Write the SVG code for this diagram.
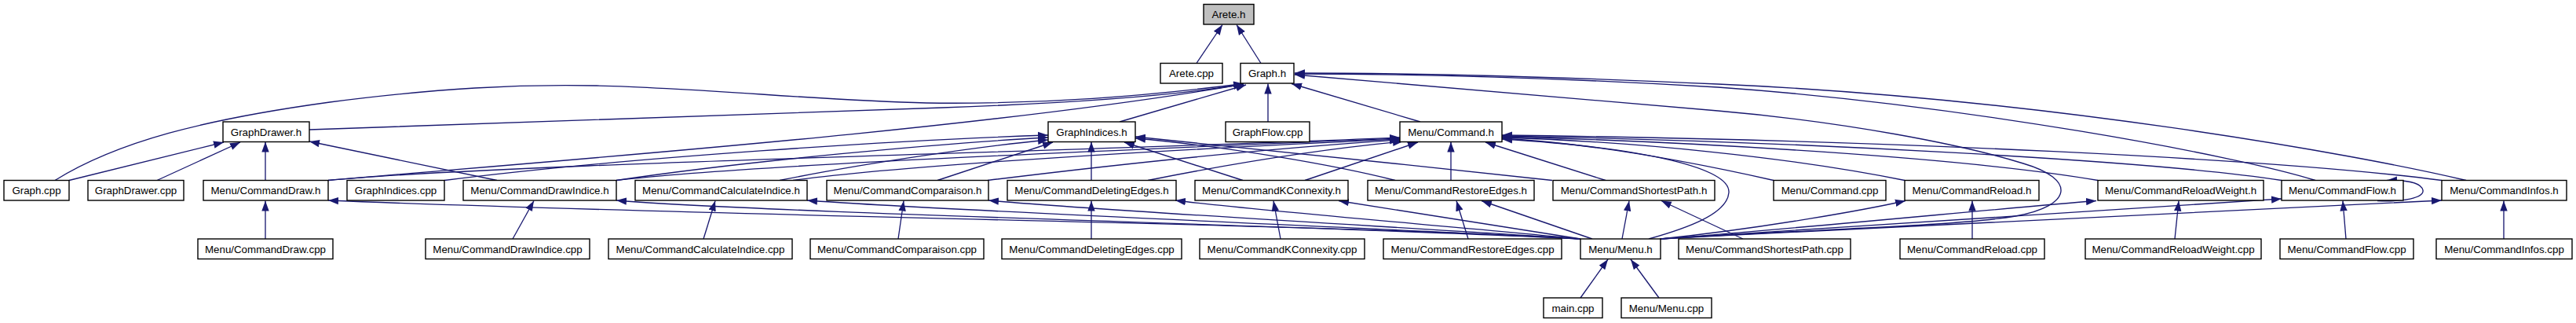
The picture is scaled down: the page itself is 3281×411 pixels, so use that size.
<svg xmlns="http://www.w3.org/2000/svg" width="3281" height="411" viewBox="0 0 3281 411">
<style>
.n rect{fill:#fff;stroke:#000;stroke-width:1.4}
.n.root rect{fill:#bfbfbf}
.n text{font-family:"Liberation Sans",Arial,Helvetica,sans-serif;font-size:13.33px;text-anchor:middle;fill:#000}
.e path{fill:none;stroke:#191970;stroke-width:1.33;marker-end:url(#a)}
</style>
<defs>
<marker id="a" markerUnits="userSpaceOnUse" markerWidth="14" markerHeight="10" refX="13" refY="5" orient="auto"><path d="M0,0.3 L13,5 L0,9.7 z" fill="#191970"/></marker>
</defs>
<rect width="3281" height="411" fill="#fff"/>
<g id="connectors" class="e">
<path d="M1524,80.5 L1557,31.5"/>
<path d="M1606,80.5 L1575,31.5"/>
<path d="M70,229.5 C150,180 260,152 420,130 C560,112 660,107 760,109 C900,112 1040,128 1180,131 C1330,133 1460,122 1584,106.5"/>
<path d="M394,165 C700,156 1000,145 1200,137 C1400,130 1520,118 1584,107"/>
<path d="M418,229.5 C700,205 1250,165 1584,107"/>
<path d="M1426,155 L1587,108"/>
<path d="M1615,155 L1615,106.5"/>
<path d="M1809,155 L1645,106.5"/>
<path d="M2114,304 C2300,292 2490,288 2567,275 C2640,262 2645,228 2577,208 C2500,184 2350,155 2188,141 L1649,95"/>
<path d="M2949,229.5 C2850,198 2500,133 2188,111 C1950,97 1760,94 1649,94"/>
<path d="M3141,229.5 C3000,196 2600,125 2188,107 C1950,96 1760,93 1649,93"/>
<path d="M88,229.5 L285,181"/>
<path d="M200,229.5 L306,181"/>
<path d="M338,229.5 L338,180.5"/>
<path d="M633,229.5 L394,180"/>
<path d="M566,229.5 C800,200 1150,178 1335,172"/>
<path d="M785,229.5 C950,205 1200,182 1335,175"/>
<path d="M993,229.5 C1100,208 1250,186 1335,178"/>
<path d="M1194,229.5 L1341,181"/>
<path d="M1390,229.5 L1390,180.5"/>
<path d="M1583,229.5 L1432,181"/>
<path d="M1777,229.5 C1700,210 1560,186 1446,176"/>
<path d="M1977,229.5 C1800,210 1580,188 1446,174"/>
<path d="M418,229.5 C650,208 1300,195 1783,175"/>
<path d="M785,229.5 C950,210 1400,192 1783,176"/>
<path d="M1010,229.5 C1150,210 1500,190 1783,177"/>
<path d="M1258,229.5 C1400,212 1600,190 1783,178"/>
<path d="M1462,229.5 C1560,210 1680,190 1787,180"/>
<path d="M1662,229.5 L1806,181"/>
<path d="M1848,229.5 L1848,180.5"/>
<path d="M2045,229.5 L1892,181"/>
<path d="M2259,229.5 C2150,205 2020,182 1913,176"/>
<path d="M2426,229.5 C2280,200 2080,180 1913,175"/>
<path d="M2672,229.5 C2500,200 2150,180 1913,174"/>
<path d="M2906,229.5 C2750,205 2300,180 1913,173"/>
<path d="M3110,229.5 C2900,202 2400,178 1913,172"/>
<path d="M2100,304 C2150,290 2200,272 2202,245 C2204,215 2100,188 1913,177"/>
<path d="M2013,304 C1700,285 900,275 418,255"/>
<path d="M2013,304 C1700,288 1000,272 785,255"/>
<path d="M2013,304 C1750,290 1200,268 1028,255"/>
<path d="M2013,304 C1800,290 1400,268 1259,255"/>
<path d="M2013,304 C1850,288 1600,268 1497,255"/>
<path d="M2013,304 L1705,255.5"/>
<path d="M2028,304 L1887,255.5"/>
<path d="M2066,304 L2075,255.5"/>
<path d="M2115,304 C2250,290 2380,266 2427,255.5"/>
<path d="M2115,304 C2300,290 2550,265 2670,255.5"/>
<path d="M2115,304 C2400,285 2750,265 2906,253"/>
<path d="M2115,304 C2500,283 2900,265 3110,255"/>
<path d="M338,304 L338,255.5"/>
<path d="M653,304 L680,255.5"/>
<path d="M896,304 L911,255.5"/>
<path d="M1144,304 L1151,255.5"/>
<path d="M1390,304 L1390,255.5"/>
<path d="M1631,304 L1622,255.5"/>
<path d="M1870,304 L1855,255.5"/>
<path d="M2220,304 L2116,255.5"/>
<path d="M2512,304 L2512,255.5"/>
<path d="M2770,304 L2775,255.5"/>
<path d="M2988,304 L2984,255.5"/>
<path d="M3189,304 L3189,255.5"/>
<path d="M2013,379 L2048,330"/>
<path d="M2113,379 L2077,330"/>
<path d="M3028,255.5 C3060,257 3088,252 3086,242 C3084,233 3068,229 3040,229.5"/>
</g>
<g id="n_arete_h" class="n root"><rect x="1533" y="5.5" width="64" height="25.5"/><text x="1565" y="23">Arete.h</text></g>
<g id="n_arete_cpp" class="n"><rect x="1478" y="80.5" width="79" height="25.5"/><text x="1517.5" y="98">Arete.cpp</text></g>
<g id="n_graph_h" class="n"><rect x="1580" y="80.5" width="68" height="25.5"/><text x="1614" y="98">Graph.h</text></g>
<g id="n_graphdrawer_h" class="n"><rect x="284" y="155" width="110" height="25.5"/><text x="339" y="172.5">GraphDrawer.h</text></g>
<g id="n_graphindices_h" class="n"><rect x="1335" y="155" width="111" height="25.5"/><text x="1390.5" y="172.5">GraphIndices.h</text></g>
<g id="n_graphflow_cpp" class="n"><rect x="1561" y="155" width="107" height="25.5"/><text x="1614.5" y="172.5">GraphFlow.cpp</text></g>
<g id="n_command_h" class="n"><rect x="1783" y="155" width="130" height="25.5"/><text x="1848" y="172.5">Menu/Command.h</text></g>
<g id="n_graph_cpp" class="n"><rect x="5" y="229.5" width="83" height="25.5"/><text x="46.5" y="247">Graph.cpp</text></g>
<g id="n_graphdrawer_cpp" class="n"><rect x="112" y="229.5" width="122" height="25.5"/><text x="173" y="247">GraphDrawer.cpp</text></g>
<g id="n_cmddraw_h" class="n"><rect x="259" y="229.5" width="159" height="25.5"/><text x="338.5" y="247">Menu/CommandDraw.h</text></g>
<g id="n_graphindices_cpp" class="n"><rect x="442" y="229.5" width="124" height="25.5"/><text x="504" y="247">GraphIndices.cpp</text></g>
<g id="n_cmddrawindice_h" class="n"><rect x="590" y="229.5" width="195" height="25.5"/><text x="687.5" y="247">Menu/CommandDrawIndice.h</text></g>
<g id="n_cmdcalc_h" class="n"><rect x="809" y="229.5" width="219" height="25.5"/><text x="918.5" y="247">Menu/CommandCalculateIndice.h</text></g>
<g id="n_cmdcomp_h" class="n"><rect x="1053" y="229.5" width="206" height="25.5"/><text x="1156" y="247">Menu/CommandComparaison.h</text></g>
<g id="n_cmddel_h" class="n"><rect x="1283" y="229.5" width="215" height="25.5"/><text x="1390.5" y="247">Menu/CommandDeletingEdges.h</text></g>
<g id="n_cmdkcon_h" class="n"><rect x="1522" y="229.5" width="195" height="25.5"/><text x="1619.5" y="247">Menu/CommandKConnexity.h</text></g>
<g id="n_cmdrestore_h" class="n"><rect x="1742" y="229.5" width="212" height="25.5"/><text x="1848" y="247">Menu/CommandRestoreEdges.h</text></g>
<g id="n_cmdshortest_h" class="n"><rect x="1978" y="229.5" width="206" height="25.5"/><text x="2081" y="247">Menu/CommandShortestPath.h</text></g>
<g id="n_command_cpp" class="n"><rect x="2259" y="229.5" width="143" height="25.5"/><text x="2330.5" y="247">Menu/Command.cpp</text></g>
<g id="n_cmdreload_h" class="n"><rect x="2426" y="229.5" width="171" height="25.5"/><text x="2511.5" y="247">Menu/CommandReload.h</text></g>
<g id="n_cmdreloadw_h" class="n"><rect x="2672" y="229.5" width="211" height="25.5"/><text x="2777.5" y="247">Menu/CommandReloadWeight.h</text></g>
<g id="n_cmdflow_h" class="n"><rect x="2906" y="229.5" width="155" height="25.5"/><text x="2983.5" y="247">Menu/CommandFlow.h</text></g>
<g id="n_cmdinfos_h" class="n"><rect x="3110" y="229.5" width="159" height="25.5"/><text x="3189.5" y="247">Menu/CommandInfos.h</text></g>
<g id="n_cmddraw_cpp" class="n"><rect x="252" y="304" width="172" height="25.5"/><text x="338" y="321.5">Menu/CommandDraw.cpp</text></g>
<g id="n_cmddrawindice_cpp" class="n"><rect x="542" y="304" width="209" height="25.5"/><text x="646.5" y="321.5">Menu/CommandDrawIndice.cpp</text></g>
<g id="n_cmdcalc_cpp" class="n"><rect x="775" y="304" width="234" height="25.5"/><text x="892" y="321.5">Menu/CommandCalculateIndice.cpp</text></g>
<g id="n_cmdcomp_cpp" class="n"><rect x="1032" y="304" width="221" height="25.5"/><text x="1142.5" y="321.5">Menu/CommandComparaison.cpp</text></g>
<g id="n_cmddel_cpp" class="n"><rect x="1276" y="304" width="229" height="25.5"/><text x="1390.5" y="321.5">Menu/CommandDeletingEdges.cpp</text></g>
<g id="n_cmdkcon_cpp" class="n"><rect x="1528" y="304" width="210" height="25.5"/><text x="1633" y="321.5">Menu/CommandKConnexity.cpp</text></g>
<g id="n_cmdrestore_cpp" class="n"><rect x="1762" y="304" width="227" height="25.5"/><text x="1875.5" y="321.5">Menu/CommandRestoreEdges.cpp</text></g>
<g id="n_menu_h" class="n"><rect x="2013" y="304" width="102" height="25.5"/><text x="2064" y="321.5">Menu/Menu.h</text></g>
<g id="n_cmdshortest_cpp" class="n"><rect x="2138" y="304" width="219" height="25.5"/><text x="2247.5" y="321.5">Menu/CommandShortestPath.cpp</text></g>
<g id="n_cmdreload_cpp" class="n"><rect x="2420" y="304" width="184" height="25.5"/><text x="2512" y="321.5">Menu/CommandReload.cpp</text></g>
<g id="n_cmdreloadw_cpp" class="n"><rect x="2656" y="304" width="224" height="25.5"/><text x="2768" y="321.5">Menu/CommandReloadWeight.cpp</text></g>
<g id="n_cmdflow_cpp" class="n"><rect x="2904" y="304" width="170" height="25.5"/><text x="2989" y="321.5">Menu/CommandFlow.cpp</text></g>
<g id="n_cmdinfos_cpp" class="n"><rect x="3103" y="304" width="173" height="25.5"/><text x="3189.5" y="321.5">Menu/CommandInfos.cpp</text></g>
<g id="n_main_cpp" class="n"><rect x="1966" y="379" width="75" height="25.5"/><text x="2003.5" y="396.5">main.cpp</text></g>
<g id="n_menu_cpp" class="n"><rect x="2065" y="379" width="115" height="25.5"/><text x="2122.5" y="396.5">Menu/Menu.cpp</text></g>
</svg>
